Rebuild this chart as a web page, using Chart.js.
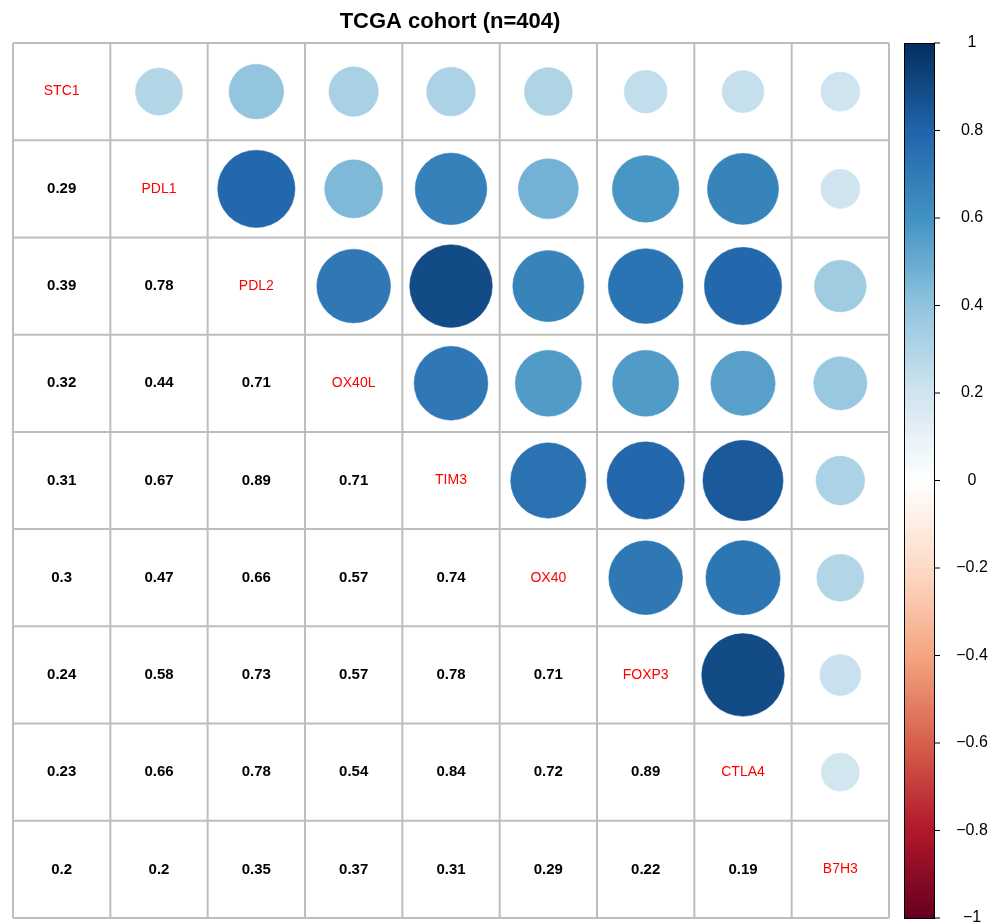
<!DOCTYPE html>
<html><head><meta charset="utf-8">
<script src="https://cdn.jsdelivr.net/npm/chart.js@4"></script>
<style>html,body{margin:0;padding:0;background:#fff;}#wrap{width:991px;height:924px;}</style>
</head><body><div id="wrap"><canvas id="c" width="991" height="924"></canvas></div>
<script>
const genes = ["STC1","PDL1","PDL2","OX40L","TIM3","OX40","FOXP3","CTLA4","B7H3"];
// lower-triangle correlations, row i has values for columns 0..i-1
const rowSTC1 = [];
const rowPDL1 = [0.29];
const rowPDL2 = [0.39, 0.78];
const rowOX40L = [0.32, 0.44, 0.71];
const rowTIM3 = [0.31, 0.67, 0.89, 0.71];
const rowOX40 = [0.30, 0.47, 0.66, 0.57, 0.74];
const rowFOXP3 = [0.24, 0.58, 0.73, 0.57, 0.78, 0.71];
const rowCTLA4 = [0.23, 0.66, 0.78, 0.54, 0.84, 0.72, 0.89];
const rowB7H3 = [0.20, 0.20, 0.35, 0.37, 0.31, 0.29, 0.22, 0.19];
const colorbarTicks = [1, 0.8, 0.6, 0.4, 0.2, 0, -0.2, -0.4, -0.6, -0.8, -1];
const titleText = "TCGA cohort (n=404)";

const lower = [rowSTC1,rowPDL1,rowPDL2,rowOX40L,rowTIM3,rowOX40,rowFOXP3,rowCTLA4,rowB7H3];
const N = genes.length;
function corr(i,j){ if(i===j) return 1; return i>j ? lower[i][j] : lower[j][i]; }

const pal = ["#67001F","#B2182B","#D6604D","#F4A582","#FDDBC7","#FFFFFF","#D1E5F0","#92C5DE","#4393C3","#2166AC","#053061"];
function hex2rgb(h){return [parseInt(h.substr(1,2),16),parseInt(h.substr(3,2),16),parseInt(h.substr(5,2),16)];}
const palRGB = pal.map(hex2rgb);
function colorFor(v){
  let idx = Math.min(199, Math.floor((v+1)/2*200));
  let t = idx/199*(pal.length-1);
  let k = Math.min(pal.length-2, Math.floor(t)); let f = t-k;
  const a = palRGB[k], b = palRGB[k+1];
  return 'rgb('+a.map((x,m)=>Math.round(x+(b[m]-x)*f)).join(',')+')';
}

const circlePts = [];
for(let i=0;i<N;i++) for(let j=i+1;j<N;j++) circlePts.push({x:j+0.5, y:i+0.5, r:corr(i,j)});

const gridPlugin = {
  id:'corrGrid',
  beforeDatasetsDraw(chart){
    const {ctx, scales:{x,y}} = chart;
    ctx.save();
    ctx.strokeStyle = '#BEBEBE'; ctx.lineWidth = 2;
    for(let k=0;k<=N;k++){
      const px = x.getPixelForValue(k), py = y.getPixelForValue(k);
      ctx.beginPath(); ctx.moveTo(px, y.getPixelForValue(0)); ctx.lineTo(px, y.getPixelForValue(N)); ctx.stroke();
      ctx.beginPath(); ctx.moveTo(x.getPixelForValue(0), py); ctx.lineTo(x.getPixelForValue(N), py); ctx.stroke();
    }
    ctx.restore();
  },
  afterDatasetsDraw(chart){
    const {ctx, scales:{x,y}} = chart;
    ctx.save();
    ctx.textAlign='center'; ctx.textBaseline='middle';
    for(let i=0;i<N;i++){
      for(let j=0;j<=i;j++){
        const px = x.getPixelForValue(j+0.5), py = y.getPixelForValue(i+0.5);
        if(i===j){
          ctx.fillStyle='#FF0000'; ctx.font='14px "Liberation Sans", Arial, sans-serif';
          ctx.fillText(genes[i], px, py);
        } else {
          ctx.fillStyle='#000'; ctx.font='bold 15px "Liberation Sans", Arial, sans-serif';
          ctx.fillText(String(lower[i][j]), px, py);
        }
      }
    }
    const cx = (x.getPixelForValue(0)+x.getPixelForValue(N))/2;
    ctx.fillStyle='#000'; ctx.font='bold 22px "Liberation Sans", Arial, sans-serif';
    ctx.fillText(titleText, cx - 1, 22);
    const top = y.getPixelForValue(0), bot = y.getPixelForValue(N);
    const bx0 = 904, bx1 = 934;
    const nb = 200;
    for(let k=0;k<nb;k++){
      const v = -1 + (k+0.5)/nb*2;
      const y0 = bot - (k/nb)*(bot-top), y1 = bot - ((k+1)/nb)*(bot-top);
      ctx.fillStyle = colorFor(v);
      ctx.fillRect(bx0, Math.floor(y1), bx1-bx0, Math.ceil(y0)-Math.floor(y1)+0.5);
    }
    ctx.strokeStyle='#000'; ctx.lineWidth=1;
    ctx.strokeRect(bx0+0.5, top+0.5, bx1-bx0, bot-top);
    ctx.font='16px "Liberation Sans", Arial, sans-serif'; ctx.fillStyle='#000';
    colorbarTicks.forEach(t=>{
      const py = bot - (t+1)/2*(bot-top);
      ctx.beginPath(); ctx.moveTo(bx1, py); ctx.lineTo(bx1+6, py); ctx.stroke();
      const lab = t===0 ? '0' : (t<0 ? '\u2212'+String(Math.abs(t)) : String(t));
      ctx.fillText(lab, 972, py);
    });
    ctx.restore();
  }
};

function radiusFor(c){
  const s=c.chart.scales.x; const cell = s.getPixelForValue(1)-s.getPixelForValue(0);
  return c.raw ? 0.45*cell*Math.sqrt(Math.abs(c.raw.r)) : 0;
}

new Chart(document.getElementById('c'), {
  type:'scatter',
  data:{datasets:[{
    data: circlePts,
    pointRadius: radiusFor,
    pointHoverRadius: radiusFor,
    backgroundColor: c => c.raw ? colorFor(c.raw.r) : '#000',
    borderColor: c => c.raw ? colorFor(c.raw.r) : '#000',
    borderWidth: 0.5
  }]},
  options:{
    responsive:false, animation:false,
    layout:{padding:{left:13, top:43, right:102, bottom:6}},
    plugins:{legend:{display:false}, tooltip:{enabled:false}, title:{display:false}},
    scales:{
      x:{type:'linear', min:0, max:N, display:false},
      y:{type:'linear', min:0, max:N, reverse:true, display:false}
    }
  },
  plugins:[gridPlugin]
});
</script>
</body></html>
